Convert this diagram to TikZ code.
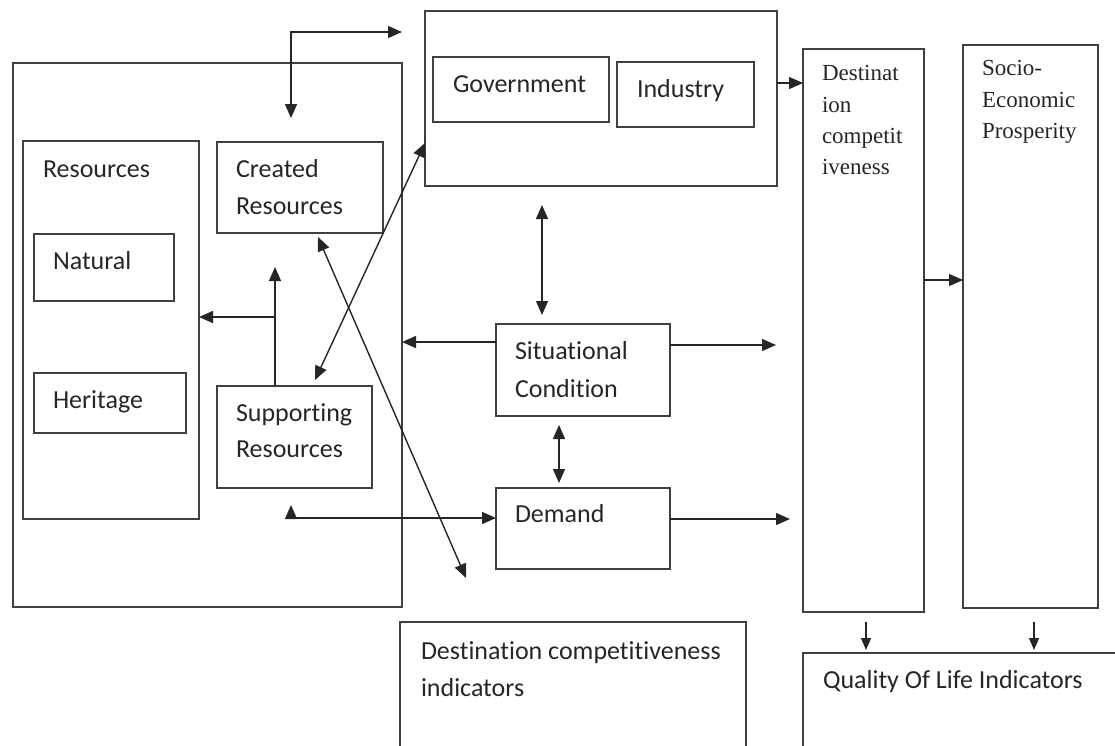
\documentclass[tikz,border=0pt]{standalone}
\usepackage{fontspec}
\setmainfont{Carlito}[Ligatures=NoCommon]
\newfontfamily\timesfont{Liberation Serif}
\usetikzlibrary{arrows.meta}

\begin{document}
\begin{tikzpicture}[x=1pt,y=-1pt,
  box/.style={draw=black!75, line width=1.5pt, inner sep=0pt, outer sep=0pt,
              anchor=north west, minimum width=#1},
  lbl/.style={anchor=base west, inner sep=0pt, outer sep=0pt,
              font=\fontsize{26}{37}\selectfont, text=black!85},
  serif/.style={anchor=base west, inner sep=0pt, outer sep=0pt,
                font=\timesfont\fontsize{23}{31}\selectfont, text=black!85},
  conn/.style={draw=black!85, line width=1.4pt},
  one/.style={conn, -{Triangle[length=14pt,width=12pt]}},
  two/.style={conn, {Triangle[length=14pt,width=12pt]}-{Triangle[length=14pt,width=12pt]}},
  small/.style={conn, -{Triangle[length=12pt,width=10pt]}}
]
\useasboundingbox (0,0) rectangle (1115,745);
\clip (0,0) rectangle (1115,745);

% ---- resource block ----
\node[box=389pt, minimum height=544pt] (outer)     at (13,63)  {};
\node[box=176pt, minimum height=378pt] (resources) at (23,141) {};
\node[box=140pt, minimum height=67pt]  (natural)   at (34,234) {};
\node[box=152pt, minimum height=60pt]  (heritage)  at (34,373) {};
\node[box=166pt, minimum height=91pt]  (created)   at (217,142) {};
\node[box=155pt, minimum height=102pt] (support)   at (217,386) {};

\node[lbl] (tRes)  at (43,177)  {Resources};
\node[lbl] (tNat)  at (53,269)  {Natural};
\node[lbl] (tHer)  at (53,408)  {Heritage};
\node[lbl] (tCr1)  at (236,177) {Created};
\node[lbl] (tCr2)  at (236,214) {Resources};
\node[lbl] (tSu1)  at (236,421) {Supporting};
\node[lbl] (tSu2)  at (236,457) {Resources};

% ---- government / industry ----
\node[box=352pt, minimum height=175pt] (actors) at (425,11) {};
\node[box=176pt, minimum height=65pt]  (gov)    at (433,57) {};
\node[box=137pt, minimum height=65pt]  (ind)    at (617,62) {};
\node[lbl] (tGov) at (453,92) {Government};
\node[lbl] (tInd) at (637,97) {Industry};

% ---- conditions and demand ----
\node[box=174pt, minimum height=92pt] (sit)    at (496,324) {};
\node[box=174pt, minimum height=81pt] (demand) at (496,488) {};
\node[lbl] (tSi1) at (515,359) {Situational};
\node[lbl] (tSi2) at (515,397) {Condition};
\node[lbl] (tDem) at (515,522) {Demand};

% ---- outcomes ----
\node[box=121pt, minimum height=563pt] (dc)    at (803,49) {};
\node[box=135pt, minimum height=563pt] (socio) at (963,45) {};
\node[serif] (tDc1) at (822,80)  {Destinat};
\node[serif] (tDc2) at (822,112) {ion};
\node[serif] (tDc3) at (822,143) {competit};
\node[serif] (tDc4) at (822,174) {iveness};
\node[serif] (tSo1) at (982,75)  {Socio-};
\node[serif] (tSo2) at (982,107) {Economic};
\node[serif] (tSo3) at (982,138) {Prosperity};

% ---- indicators ----
\node[box=346pt, minimum height=140pt] (dci) at (400,622) {};
\node[box=330pt, minimum height=110pt] (qol) at (803,653) {};
\node[lbl] (tDi1) at (421,659) {Destination competitiveness};
\node[lbl] (tDi2) at (421,696) {indicators};
\node[lbl] (tQol) at (823,688) {Quality Of Life Indicators};

% ---- connector end points ----
\coordinate (topL)  at (291,118);
\coordinate (topC)  at (291,32);
\coordinate (topR)  at (402,32);
\coordinate (supUp) at (275,267);
\coordinate (supBr) at (275,317);
\coordinate (actIn) at (425,143);
\coordinate (supIn) at (315,380);
\coordinate (creIn) at (318,237);
\coordinate (creOut) at (466,578);
\coordinate (demUp) at (291,505);
\coordinate (demC)  at (291,518);

% ---- connectors ----
\draw[two] (topL) -- (topC) -- (topR);
\draw[one] (support.north -| supUp) -- (supUp);
\draw[one] (supBr) -- (supBr -| resources.east);
\draw[two] (actIn) -- (supIn);
\draw[two] (creIn) -- (creOut);
\draw[two] (542,205) coordinate (aS) -- (542,315) coordinate (sA);
\draw[one] (sit.west |- 0,342) -- (outer.east |- 0,342);
\draw[one] (sit.east |- 0,345) -- (776,345) coordinate (sitOut);
\draw[two] (559,425) coordinate (sD) -- (559,483) coordinate (dS);
\draw[two] (demUp) -- (demC) -- (demC -| demand.west);
\draw[one] (demand.east |- 0,519) -- (790,519) coordinate (demOut);
\draw[one] (actors.east |- 0,83) -- (dc.west |- 0,83);
\draw[one] (dc.east |- 0,280) -- (socio.west |- 0,280);
\draw[small] (866,622) coordinate (dcDown) -- (866,650) coordinate (qolA);
\draw[small] (1034,622) coordinate (soDown) -- (1034,650) coordinate (qolB);
\end{tikzpicture}
\end{document}
